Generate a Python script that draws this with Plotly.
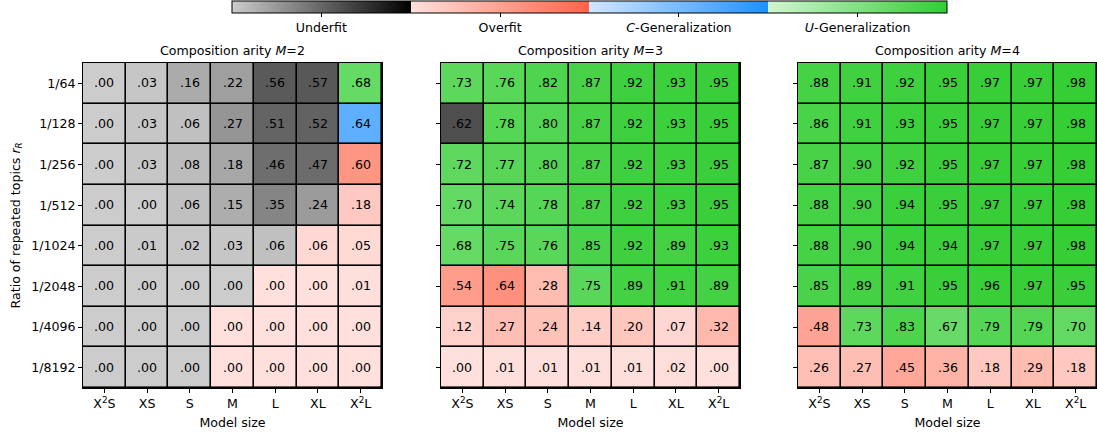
import plotly.graph_objects as go

# Axis categories
model_sizes = ["X<sup>2</sup>S", "XS", "S", "M", "L", "XL", "X<sup>2</sup>L"]
ratios = ["1/64", "1/128", "1/256", "1/512", "1/1024", "1/2048", "1/4096", "1/8192"]
arities = [2, 3, 4]

# Regime names shown on the shared colour bar
regime_names = ["Underfit", "Overfit", "<i>C</i>-Generalization", "<i>U</i>-Generalization"]
regime_codes = ["U", "O", "C", "G"]

# Accuracy values, rows = ratio of repeated topics, cols = model size
values_m2 = [
    [.00, .03, .16, .22, .56, .57, .68],
    [.00, .03, .06, .27, .51, .52, .64],
    [.00, .03, .08, .18, .46, .47, .60],
    [.00, .00, .06, .15, .35, .24, .18],
    [.00, .01, .02, .03, .06, .06, .05],
    [.00, .00, .00, .00, .00, .00, .01],
    [.00, .00, .00, .00, .00, .00, .00],
    [.00, .00, .00, .00, .00, .00, .00],
]
values_m3 = [
    [.73, .76, .82, .87, .92, .93, .95],
    [.62, .78, .80, .87, .92, .93, .95],
    [.72, .77, .80, .87, .92, .93, .95],
    [.70, .74, .78, .87, .92, .93, .95],
    [.68, .75, .76, .85, .92, .89, .93],
    [.54, .64, .28, .75, .89, .91, .89],
    [.12, .27, .24, .14, .20, .07, .32],
    [.00, .01, .01, .01, .01, .02, .00],
]
values_m4 = [
    [.88, .91, .92, .95, .97, .97, .98],
    [.86, .91, .93, .95, .97, .97, .98],
    [.87, .90, .92, .95, .97, .97, .98],
    [.88, .90, .94, .95, .97, .97, .98],
    [.88, .90, .94, .94, .97, .97, .98],
    [.85, .89, .91, .95, .96, .97, .95],
    [.48, .73, .83, .67, .79, .79, .70],
    [.26, .27, .45, .36, .18, .29, .18],
]

# Regime of each cell: U=underfit, O=overfit, C=C-generalization, G=U-generalization
regimes_m2 = [
    "UUUUUUG",
    "UUUUUUC",
    "UUUUUUO",
    "UUUUUUO",
    "UUUUUOO",
    "UUUUOOO",
    "UUUOOOO",
    "UUUOOOO",
]
regimes_m3 = [
    "GGGGGGG",
    "UGGGGGG",
    "GGGGGGG",
    "GGGGGGG",
    "GGGGGGG",
    "OOOGGGG",
    "OOOOOOO",
    "OOOOOOO",
]
regimes_m4 = [
    "GGGGGGG",
    "GGGGGGG",
    "GGGGGGG",
    "GGGGGGG",
    "GGGGGGG",
    "GGGGGGG",
    "OGGGGGG",
    "OOOOOOO",
]

panels = [(values_m2, regimes_m2), (values_m3, regimes_m3), (values_m4, regimes_m4)]

# Light -> saturated ramp for each regime
ramps = [
    ("rgb(204,204,204)", "rgb(0,0,0)"),
    ("rgb(255,224,220)", "rgb(255,99,71)"),
    ("rgb(210,230,255)", "rgb(30,144,255)"),
    ("rgb(210,245,210)", "rgb(50,205,50)"),
]
n_reg = len(ramps)
eps = 1e-6
colorscale = []
for k, (c0, c1) in enumerate(ramps):
    colorscale.append([k / n_reg, c0])
    colorscale.append([(k + 1) / n_reg - (eps if k < n_reg - 1 else 0), c1])

W, H = 1097, 434
x_domains_px = [(83, 382), (441, 740), (798, 1097)]
y_domain_px = (63, 388)

fig = go.Figure()
font = "DejaVu Sans, Arial, sans-serif"
fs = 12.6

for i, (vals, regs) in enumerate(panels):
    z = []
    text = []
    for r, row in enumerate(vals):
        zr, tr = [], []
        for c, v in enumerate(row):
            k = regime_codes.index(regs[r][c])
            zr.append(k + min(v, 0.999))
            tr.append(f"{v:.2f}"[1:])
        z.append(zr)
        text.append(tr)
    axn = "" if i == 0 else str(i + 1)
    fig.add_trace(go.Heatmap(
        z=z, x=model_sizes, y=ratios, text=text,
        texttemplate="%{text}", textfont=dict(size=fs, color="black", family=font),
        colorscale=colorscale, zmin=0, zmax=n_reg,
        xgap=1.6, ygap=1.6, hoverinfo="skip",
        showscale=(i == 0),
        colorbar=dict(
            orientation="h", x=589.5 / W, xanchor="center", y=1 - 1 / H, yanchor="top",
            xpad=0, ypad=0,
            len=715 / W, lenmode="fraction", thickness=12, thicknessmode="pixels",
            outlinewidth=1, outlinecolor="black",
            tickvals=[k + 0.5 for k in range(n_reg)], ticktext=regime_names,
            ticks="outside", ticklen=4, tickcolor="black",
            tickfont=dict(size=fs, color="black", family=font),
        ),
        xaxis="x" + axn, yaxis="y" + axn,
    ))
    x0, x1 = x_domains_px[i]
    fig.update_layout(**{
        "xaxis" + axn: dict(
            domain=[x0 / W, x1 / W], anchor="y" + axn,
            showline=True, mirror=True, linecolor="black", linewidth=1,
            ticks="outside", ticklen=4, tickcolor="black",
            tickfont=dict(size=fs, color="black", family=font),
            title=dict(text="Model size", font=dict(size=fs, color="black", family=font), standoff=8),
            showgrid=False, zeroline=False, fixedrange=True,
        ),
        "yaxis" + axn: dict(
            domain=[1 - y_domain_px[1] / H, 1 - y_domain_px[0] / H], anchor="x" + axn,
            autorange="reversed",
            showline=True, mirror=True, linecolor="black", linewidth=1,
            ticks="outside", ticklen=4, tickcolor="black",
            showticklabels=(i == 0),
            tickfont=dict(size=fs, color="black", family=font),
            showgrid=False, zeroline=False, fixedrange=True,
        ),
    })
    fig.add_annotation(
        text=f"Composition arity <i>M</i>={arities[i]}",
        x=(x0 + x1) / 2 / W, y=1 - 51 / H, xref="paper", yref="paper",
        xanchor="center", yanchor="middle", showarrow=False,
        font=dict(size=fs, color="black", family=font),
    )

fig.add_annotation(
    text="Ratio of repeated topics <i>r</i><sub><i>R</i></sub>",
    x=16 / W, y=1 - (y_domain_px[0] + y_domain_px[1]) / 2 / H, xref="paper", yref="paper",
    xanchor="center", yanchor="middle", textangle=-90, showarrow=False,
    font=dict(size=fs, color="black", family=font),
)

fig.update_layout(
    width=W, height=H,
    margin=dict(l=0, r=0, t=0, b=0),
    paper_bgcolor="white", plot_bgcolor="black",
    font=dict(family=font, color="black"),
)

fig.write_html("out.html")
